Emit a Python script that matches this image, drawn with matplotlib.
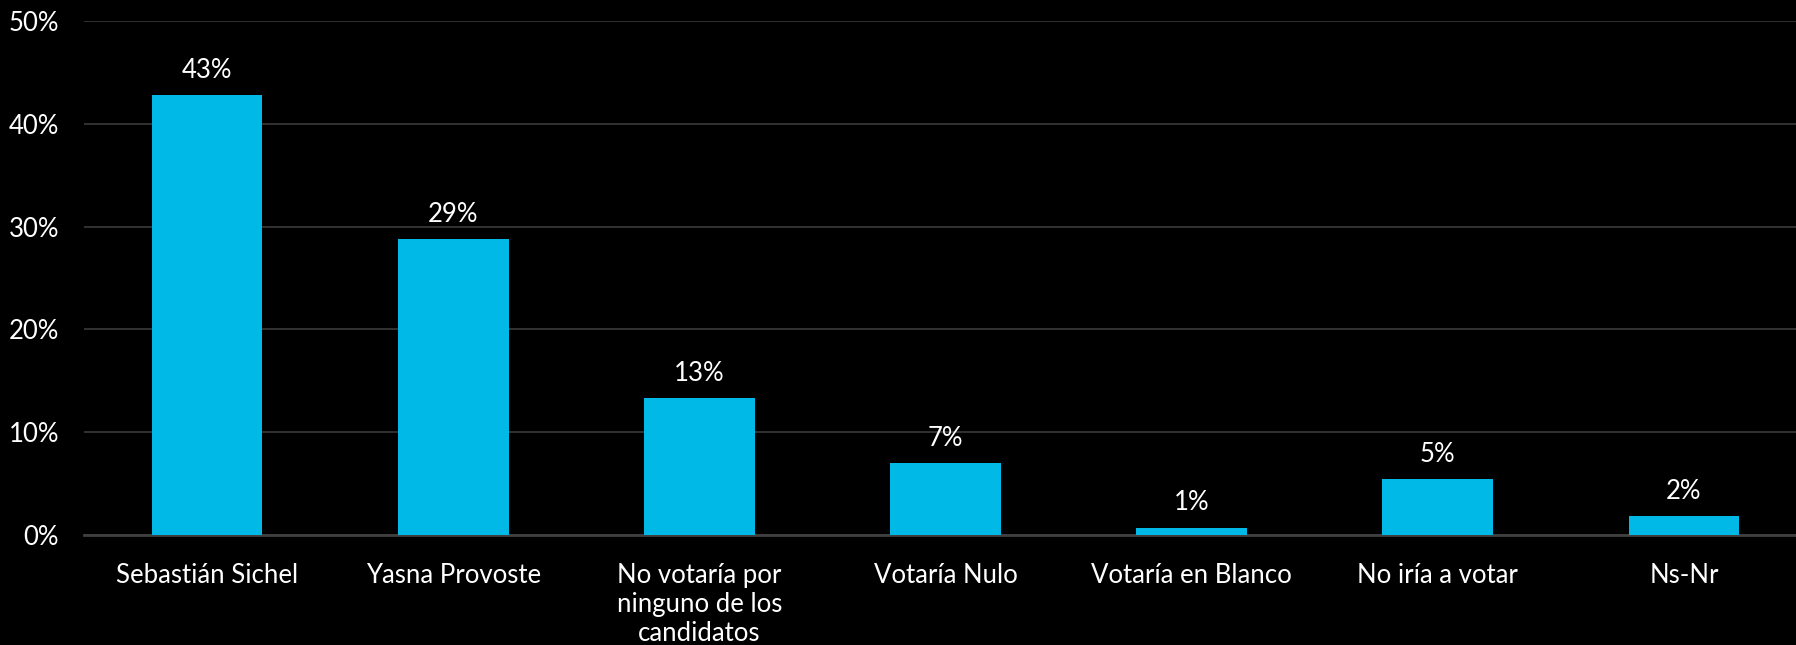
import numpy as np
import matplotlib
matplotlib.use("Agg")
import matplotlib.pyplot as plt

categorias = ["Sebastián Sichel", "Yasna Provoste",
              "No votaría por\nninguno de los\ncandidatos",
              "Votaría Nulo", "Votaría en Blanco", "No iría a votar", "Ns-Nr"]
valores = [42.8, 28.8, 13.3, 7.0, 0.7, 5.4, 1.8]
etiquetas = ["43%", "29%", "13%", "7%", "1%", "5%", "2%"]
yticks = [0, 10, 20, 30, 40, 50]

plt.rcParams['font.family'] = ['Lato', 'DejaVu Sans']

fig = plt.figure(figsize=(17.96, 6.45), dpi=100, facecolor='black')
ax = fig.add_axes([84/1796, 1-535/645, (1807-84)/1796, 514/645])
ax.set_facecolor('black')

x = np.arange(len(categorias))
ax.bar(x, valores, width=0.45, color='#00B9E6', zorder=3)
for xi, v, t in zip(x, valores, etiquetas):
    ax.text(xi, v + 1.2, t, ha='center', va='bottom', color='white', fontsize=18.5)

ax.set_xlim(-0.5, len(categorias) - 0.5)
ax.set_ylim(0, 50)
ax.set_yticks(yticks)
ax.set_yticklabels([f"{t}%" for t in yticks], color='white', fontsize=18.5)
ax.set_xticks(x)
ax.set_xticklabels(categorias, color='white', fontsize=18.5, linespacing=1.2)
ax.tick_params(axis='both', length=0)
ax.tick_params(axis='y', pad=18)
ax.tick_params(axis='x', pad=20)
ax.grid(axis='y', color='#3a3a3a', linewidth=1.2, zorder=0)
for s in ['top', 'right', 'left']:
    ax.spines[s].set_visible(False)
ax.spines['bottom'].set_color('#404040')
ax.spines['bottom'].set_linewidth(2)

fig.savefig('out.png', dpi=100, facecolor='black')
